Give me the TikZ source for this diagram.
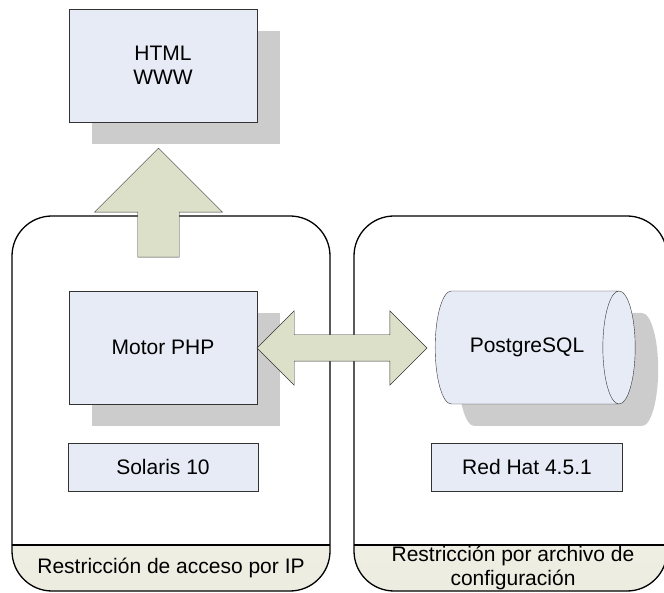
\documentclass[tikz,border=0pt]{standalone}
\usepackage{fontspec}
\setmainfont{Liberation Sans}
\usepackage{tikz}
\usetikzlibrary{shapes.geometric, shapes.arrows, shadows, positioning}
\definecolor{boxblue}{RGB}{230,235,246}
\definecolor{arrowgreen}{RGB}{221,224,201}
\definecolor{bandgreen}{RGB}{236,236,224}
\definecolor{shadowgrey}{RGB}{204,204,204}
\tikzset{
	zone/.style={rectangle, rounded corners=40pt, minimum width=318pt, minimum height=375pt, draw=black, line width=1.3pt,
		path picture={
			\fill[sharp corners, top color=white, bottom color=bandgreen] ([yshift=46pt]path picture bounding box.south west) rectangle (path picture bounding box.south east);
			\draw[sharp corners, line width=1.3pt] ([yshift=46pt]path picture bounding box.south west) -- ([yshift=46pt]path picture bounding box.south east);
		}},
	process/.style={rectangle, minimum width=188pt, minimum height=113pt, text centered, draw=black!80, fill=boxblue, font=\fontsize{21}{24}\selectfont,
		general shadow={fill=shadowgrey, shadow xshift=23pt, shadow yshift=-22pt}},
	osbox/.style={rectangle, minimum width=190pt, minimum height=48pt, text centered, draw=black!80, fill=boxblue, font=\fontsize{21}{24}\selectfont},
	database/.style={cylinder, aspect=1.7, minimum width=113pt, minimum height=200pt, draw=black!80, fill=boxblue, inner sep=0pt, font=\fontsize{21}{24}\selectfont,
		general shadow={fill=shadowgrey, shadow xshift=23pt, shadow yshift=-22pt}},
	note/.style={font=\fontsize{21}{24}\selectfont, align=center},
	bigarrow/.style={draw=black!80, fill=arrowgreen, inner xsep=0pt}
}

\begin{document}
\begin{tikzpicture}[x=1pt, y=1pt]
	\useasboundingbox (0,0) rectangle (664,592);
	
	% Zones
	\node (leftzone) [zone] at (171,188.5) {};
	\node (rightzone) [zone, minimum width=313pt] at (510.5,188.5) {};
	\node (leftnote) [note] at (171,24) {Restricción de acceso por IP};
	\node (rightnote) [note] at (513,24) {Restricción por archivo de\\configuración};
	
	% Nodes
	\node (html) [process, align=center] at (163,526.5) {HTML\\WWW};
	\node (motor) [process] at (163,244.5) {Motor PHP};
	\node (solaris) [osbox, below=39pt of motor] {Solaris 10};
	\node (postgres) [database] at (527,244.5) {PostgreSQL};
	\node (redhat) [osbox, minimum width=191pt, below=39pt of postgres] {Red Hat 4.5.1};
	
	% Arrows
	\node (uparrow) [bigarrow, single arrow, rotate=90, minimum width=128pt, minimum height=109pt, inner ysep=17.5pt, single arrow head extend=37pt] at (158.5,379) {};
	\node (linkarrow) [bigarrow, double arrow, minimum width=74pt, minimum height=170pt, inner ysep=13pt, double arrow head extend=24pt] at (342,244) {};
	
\end{tikzpicture}
\end{document}
